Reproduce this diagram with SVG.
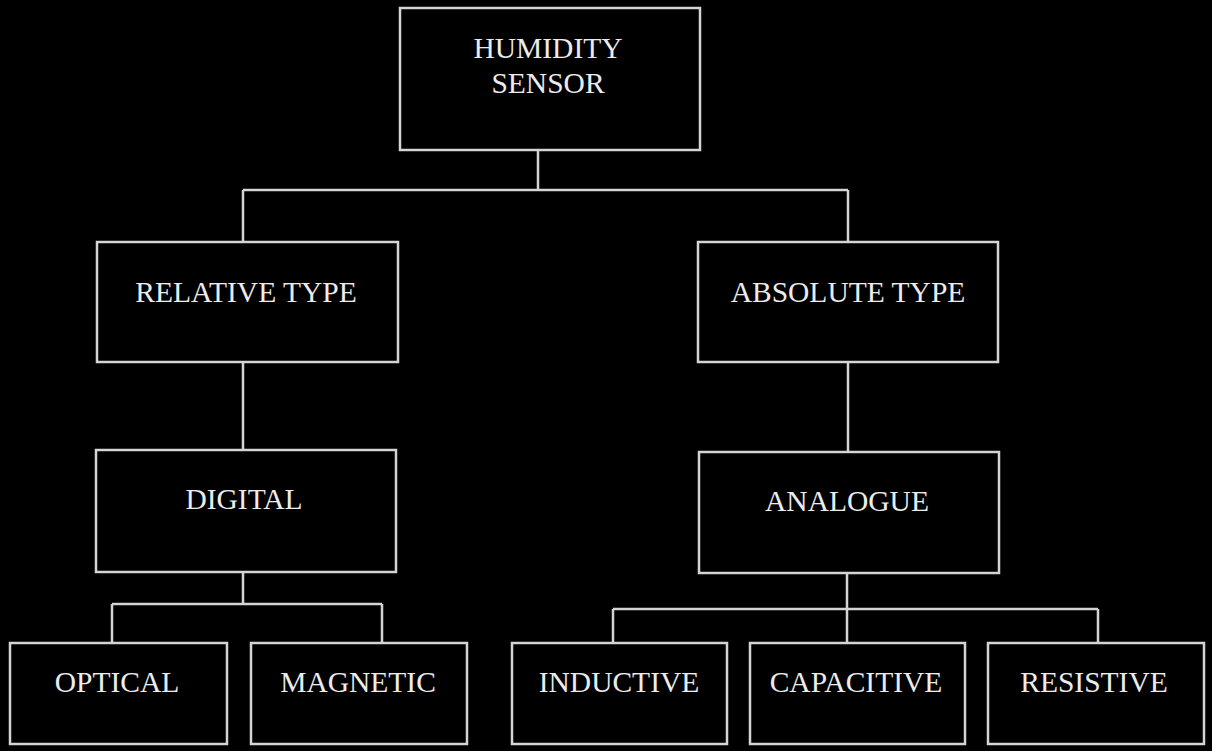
<svg xmlns="http://www.w3.org/2000/svg" width="1212" height="751" viewBox="0 0 1212 751">
<style>
.box{fill:#000;stroke:#d4d4d4;stroke-width:2.5}
.lbl{font-family:"Liberation Serif","Times New Roman",serif;font-size:29.5px;fill:#ececec;text-anchor:middle}
.con{fill:none;stroke:#d4d4d4;stroke-width:2.5}
</style>
<rect x="0" y="0" width="1212" height="751" fill="#000"/>
<g id="connectors">
<path class="con" d="M538,150V190M243,190H848M243,190V242M848,190V242"/>
<path class="con" d="M243,362V450"/>
<path class="con" d="M848,362V452"/>
<path class="con" d="M243,572V604M112,604H382M112,604V643M382,604V643"/>
<path class="con" d="M847,573V609M613,609H1098M613,609V643M847,609V643M1098,609V643"/>
</g>
<g id="humidity-sensor">
<rect class="box" x="400" y="8" width="300" height="142"/>
<text class="lbl" x="548" y="58">HUMIDITY</text>
<text class="lbl" x="548" y="93">SENSOR</text>
</g>
<g id="relative-type">
<rect class="box" x="97" y="242" width="301" height="120"/>
<text class="lbl" x="246" y="302">RELATIVE TYPE</text>
</g>
<g id="absolute-type">
<rect class="box" x="698" y="242" width="300" height="120"/>
<text class="lbl" x="848" y="302">ABSOLUTE TYPE</text>
</g>
<g id="digital">
<rect class="box" x="96" y="450" width="300" height="122"/>
<text class="lbl" x="244" y="509">DIGITAL</text>
</g>
<g id="analogue">
<rect class="box" x="699" y="452" width="300" height="121"/>
<text class="lbl" x="847" y="511">ANALOGUE</text>
</g>
<g id="optical">
<rect class="box" x="10" y="643" width="217" height="101"/>
<text class="lbl" x="117" y="692">OPTICAL</text>
</g>
<g id="magnetic">
<rect class="box" x="251" y="643" width="216" height="101"/>
<text class="lbl" x="358" y="692">MAGNETIC</text>
</g>
<g id="inductive">
<rect class="box" x="512" y="643" width="215" height="101"/>
<text class="lbl" x="619" y="692">INDUCTIVE</text>
</g>
<g id="capacitive">
<rect class="box" x="750" y="643" width="215" height="101"/>
<text class="lbl" x="856" y="692">CAPACITIVE</text>
</g>
<g id="resistive">
<rect class="box" x="988" y="643" width="216" height="101"/>
<text class="lbl" x="1094" y="692">RESISTIVE</text>
</g>
</svg>
